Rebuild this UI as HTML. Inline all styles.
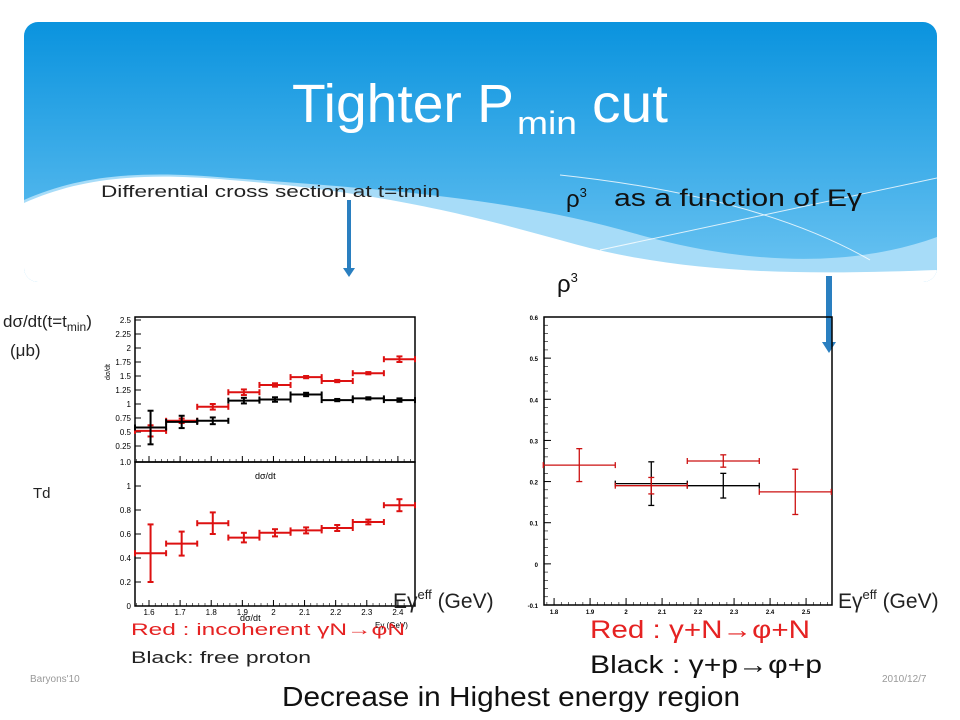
<!DOCTYPE html>
<html><head><meta charset="utf-8"><style>
html,body{margin:0;padding:0;background:#fff;}
svg{display:block;font-family:"Liberation Sans",sans-serif;}
</style></head><body>
<svg id="s" width="960" height="720" viewBox="0 0 960 720" xmlns="http://www.w3.org/2000/svg">
<defs>
<linearGradient id="bg" x1="0" y1="0" x2="0" y2="1">
<stop offset="0" stop-color="#0a93de"/><stop offset="1" stop-color="#6cc4f2"/>
</linearGradient>
<clipPath id="bc"><rect x="24" y="22" width="913" height="260" rx="14"/></clipPath>
</defs>
<g clip-path="url(#bc)">
<rect x="24" y="22" width="913" height="260" fill="url(#bg)"/>
<path d="M24,200 C80,175 140,170 230,178 C400,190 520,200 640,235 C760,268 860,265 937,237 L937,290 L24,290 Z" fill="#a7dcf8"/>
<path d="M24,203 C80,178 140,172 230,180 C380,192 470,215 560,240 C680,275 800,275 937,270 L937,290 L24,290 Z" fill="#fff"/>
<path d="M600,250 L937,178" stroke="#fff" stroke-width="1" opacity="0.8"/>
<path d="M560,175 C700,190 800,220 870,260" stroke="#fff" stroke-width="1" fill="none" opacity="0.8"/>
</g>
<text x="292" y="122" font-size="54" fill="#fff" textLength="222" lengthAdjust="spacingAndGlyphs">Tighter P</text>
<text x="517" y="134" font-size="32" fill="#fff" textLength="60" lengthAdjust="spacingAndGlyphs">min</text>
<text x="592" y="122" font-size="54" fill="#fff" textLength="76" lengthAdjust="spacingAndGlyphs">cut</text>
<text x="101" y="197" font-size="17" fill="#222" textLength="339" lengthAdjust="spacingAndGlyphs">Differential cross section at t=tmin</text>
<text x="566" y="207" font-size="24" fill="#111">ρ<tspan font-size="13" dy="-10">3</tspan></text>
<text x="614" y="206" font-size="24" fill="#111" textLength="248" lengthAdjust="spacingAndGlyphs">as a function of Eγ</text>
<text x="557" y="292" font-size="24" fill="#111">ρ<tspan font-size="13" dy="-10">3</tspan></text>
<g><rect x="347" y="200" width="4" height="70" fill="#2a7fc0"/><path d="M343,268 L355,268 L349,277 Z" fill="#2a7fc0"/></g>
<g><rect x="826" y="276" width="6" height="68" fill="#2a7fc0"/><path d="M822,342 L836,342 L829,353 Z" fill="#2a7fc0"/></g>
<text x="3" y="327" font-size="17" fill="#222">dσ/dt(t=t<tspan font-size="12" dy="4">min</tspan><tspan dy="-4">)</tspan></text>
<text x="10" y="356" font-size="17" fill="#222">(μb)</text>
<text x="33" y="498" font-size="15" fill="#222">Td</text>
<g id="left"></g>
<g id="right"></g>
<text x="393" y="608" font-size="21" fill="#222">Eγ<tspan font-size="13" dy="-9">eff</tspan><tspan dy="9"> (GeV)</tspan></text>
<text x="838" y="608" font-size="21" fill="#222">Eγ<tspan font-size="13" dy="-9">eff</tspan><tspan dy="9"> (GeV)</tspan></text>
<text x="131" y="635" font-size="17" fill="#e52222" textLength="274" lengthAdjust="spacingAndGlyphs">Red : incoherent γN→φN</text>
<text x="131" y="663" font-size="17" fill="#222" textLength="180" lengthAdjust="spacingAndGlyphs">Black: free proton</text>
<text x="590" y="638" font-size="25" fill="#e52222" textLength="220" lengthAdjust="spacingAndGlyphs">Red : γ+N→φ+N</text>
<text x="590" y="673" font-size="25" fill="#111" textLength="232" lengthAdjust="spacingAndGlyphs">Black : γ+p→φ+p</text>
<text x="30" y="682" font-size="10" fill="#999">Baryons'10</text>
<text x="882" y="682" font-size="10" fill="#999">2010/12/7</text>
<text x="282" y="706" font-size="28" fill="#111" textLength="458" lengthAdjust="spacingAndGlyphs">Decrease in Highest energy region</text>
</svg>
<script>
const leftCenters=[1.605,1.705,1.805,1.905,2.005,2.105,2.205,2.305,2.405];
const topRed=[0.52,0.70,0.95,1.21,1.34,1.48,1.41,1.55,1.80];
const topRedErr=[0.1,0.04,0.05,0.05,0.03,0.02,0.02,0.02,0.05];
const topBlack=[0.58,0.68,0.70,1.06,1.08,1.17,1.07,1.10,1.07];
const topBlackErr=[0.3,0.11,0.06,0.05,0.04,0.03,0.02,0.02,0.03];
const botRed=[0.44,0.52,0.69,0.57,0.61,0.63,0.65,0.70,0.84];
const botRedErr=[0.24,0.1,0.09,0.04,0.03,0.025,0.025,0.02,0.05];
const leftXTicks=[1.6,1.7,1.8,1.9,2.0,2.1,2.2,2.3,2.4];
const leftXTickLabels=["1.6","1.7","1.8","1.9","2","2.1","2.2","2.3","2.4"];
const topYTicks=[0.25,0.5,0.75,1,1.25,1.5,1.75,2,2.25,2.5];
const topYTickLabels=["0.25","0.5","0.75","1","1.25","1.5","1.75","2","2.25","2.5"];
const botYTicks=[0,0.2,0.4,0.6,0.8,1];
const botYTickLabels=["0","0.2","0.4","0.6","0.8","1"];
const rightCenters=[1.87,2.07,2.27,2.47];
const rightRed=[0.24,0.19,0.25,0.175];
const rightRedErr=[0.04,0.02,0.015,0.055];
const blackCenters=[2.07,2.27];
const rightBlack=[0.195,0.19];
const rightBlackErr=[0.053,0.03];
const rightYTicks=[-0.1,0,0.1,0.2,0.3,0.4,0.5,0.6];
const rightYTickLabels=["-0.1","0","0.1","0.2","0.3","0.4","0.5","0.6"];
const rightXTicks=[1.8,1.9,2.0,2.1,2.2,2.3,2.4,2.5];
const rightXTickLabels=["1.8","1.9","2","2.1","2.2","2.3","2.4","2.5"];

const NS="http://www.w3.org/2000/svg";
function mk(p,tag,a){const e=document.createElementNS(NS,tag);for(const k in a)e.setAttribute(k,a[k]);p.appendChild(e);return e;}
function lin(d0,d1,r0,r1){return v=>r0+(v-d0)/(d1-d0)*(r1-r0);}

const L=document.getElementById('left');
const lx=lin(1.555,2.455,135,415);
const ty=lin(1,2.5,404,320);
const by=lin(0,1,606,486);
function frame(g,x0,y0,x1,y1){const r=mk(g,'rect',{x:x0,y:y0,width:x1-x0,height:y1-y0,fill:'none',stroke:'#000','stroke-width':1.5});}
frame(L,135,317,415,462);
frame(L,135,462,415,606);
function errs(g,xs,ys,es,hw,X,Y,col,sw,name){
 for(let i=0;i<xs.length;i++){
  const grp=mk(g,'g',{stroke:col,'stroke-width':sw,fill:'none'});
  
  
  const cx=X(xs[i]),cy=Y(ys[i]),xl=X(xs[i]-hw),xr=X(xs[i]+hw),yt=Y(ys[i]+es[i]),yb=Y(ys[i]-es[i]);
  mk(grp,'line',{x1:xl,y1:cy,x2:xr,y2:cy});
  mk(grp,'line',{x1:xl,y1:cy-3,x2:xl,y2:cy+3});
  mk(grp,'line',{x1:xr,y1:cy-3,x2:xr,y2:cy+3});
  mk(grp,'line',{x1:cx,y1:yt,x2:cx,y2:yb});
  mk(grp,'line',{x1:cx-3,y1:yt,x2:cx+3,y2:yt});
  mk(grp,'line',{x1:cx-3,y1:yb,x2:cx+3,y2:yb});
 }
}
leftXTicks.forEach((v,i)=>{
 const x=lx(v);
 mk(L,'line',{x1:x,y1:606,x2:x,y2:600,stroke:'#000'});
 mk(L,'line',{x1:x,y1:462,x2:x,y2:456,stroke:'#000'});
 const t=mk(L,'text',{x:x,y:615,'font-size':8,'text-anchor':'middle',fill:'#000'});t.textContent=leftXTickLabels[i];
 
});
for(let v=1.56;v<2.45;v+=0.02){const x=lx(v);mk(L,'line',{x1:x,y1:606,x2:x,y2:603,stroke:'#000','stroke-width':0.6});mk(L,'line',{x1:x,y1:462,x2:x,y2:459,stroke:'#000','stroke-width':0.6});}
topYTicks.forEach((v,i)=>{const y=ty(v);mk(L,'line',{x1:135,y1:y,x2:141,y2:y,stroke:'#000'});const t=mk(L,'text',{x:131,y:y+3,'font-size':8,'text-anchor':'end',fill:'#000'});t.textContent=topYTickLabels[i];});
botYTicks.forEach((v,i)=>{const y=by(v);mk(L,'line',{x1:135,y1:y,x2:141,y2:y,stroke:'#000'});const t=mk(L,'text',{x:131,y:y+3,'font-size':8,'text-anchor':'end',fill:'#000'});t.textContent=botYTickLabels[i];});
{const t=mk(L,'text',{x:131,y:465,'font-size':8,'text-anchor':'end',fill:'#000'});t.textContent='1.0';}
{const t=mk(L,'text',{x:255,y:479,'font-size':9,fill:'#000'});t.textContent='dσ/dt';}
{const t=mk(L,'text',{x:240,y:621,'font-size':9,fill:'#000'});t.textContent='dσ/dt';}
{const t=mk(L,'text',{x:375,y:628,'font-size':8,fill:'#000'});t.textContent='Eγ (GeV)';}
{const t=mk(L,'text',{x:0,y:0,'font-size':7,fill:'#000',transform:'translate(110,380) rotate(-90)'});t.textContent='dσ/dt';}
errs(L,leftCenters,topRed,topRedErr,0.05,lx,ty,'#dd1111',2,'top-red-point');
errs(L,leftCenters,topBlack,topBlackErr,0.05,lx,ty,'#000',2,'top-black-point');
errs(L,leftCenters,botRed,botRedErr,0.05,lx,by,'#dd1111',2,'bottom-red-point');

const R=document.getElementById('right');
const rx=lin(1.772,2.572,544,832);
const ry=lin(-0.1,0.6,605,317);
frame(R,544,317,832,605);
rightYTicks.forEach((v,i)=>{const y=ry(v);mk(R,'line',{x1:544,y1:y,x2:551,y2:y,stroke:'#000'});const t=mk(R,'text',{x:538,y:y+3,'font-size':6,'font-weight':'bold','text-anchor':'end',fill:'#000'});t.textContent=rightYTickLabels[i];});
for(let v=-0.1;v<0.6;v+=0.02){const y=ry(v);mk(R,'line',{x1:544,y1:y,x2:548,y2:y,stroke:'#000','stroke-width':0.6});}
rightXTicks.forEach((v,i)=>{const x=rx(v);mk(R,'line',{x1:x,y1:605,x2:x,y2:598,stroke:'#000'});const t=mk(R,'text',{x:x,y:614,'font-size':6,'font-weight':'bold','text-anchor':'middle',fill:'#000'});t.textContent=rightXTickLabels[i];});
for(let v=1.78;v<2.57;v+=0.02){const x=rx(v);mk(R,'line',{x1:x,y1:605,x2:x,y2:602,stroke:'#000','stroke-width':0.6});}
errs(R,blackCenters,rightBlack,rightBlackErr,0.1,rx,ry,'#000',1.3,'right-black-point');
errs(R,rightCenters,rightRed,rightRedErr,0.1,rx,ry,'#cc1111',1.3,'right-red-point');
</script>
</body></html>
